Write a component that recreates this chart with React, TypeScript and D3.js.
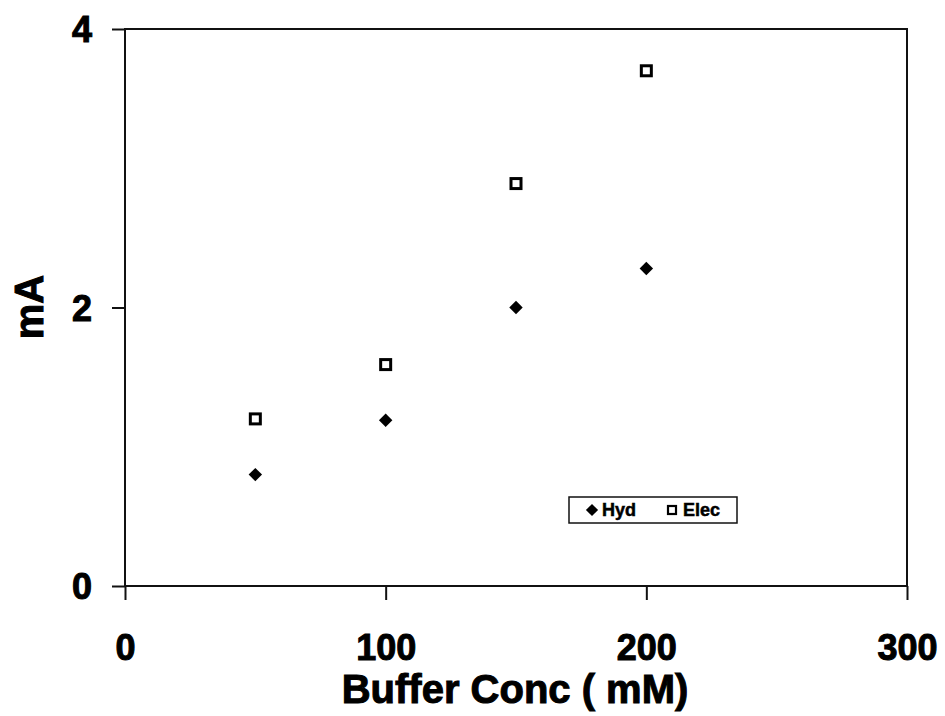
import React, { useEffect, useRef } from "react";
import * as d3 from "d3";

const concs = [50, 100, 150, 200];
const hyd = [0.8, 1.19, 2.0, 2.28];
const elec = [1.2, 1.59, 2.89, 3.7];
const xTicks = [0, 100, 200, 300];
const yTicks = [0, 2, 4];

const width = 945;
const height = 716;
const margin = { top: 29, left: 125, bottom: 130, right: 38 };
const iwidth = width - margin.left - margin.right;
const iheight = height - margin.top - margin.bottom;
const font = "'Liberation Sans', Arial, sans-serif";

export default function App() {
  const ref = useRef<SVGSVGElement>(null);

  useEffect(() => {
    const svg = d3.select(ref.current);
    svg.selectAll("*").remove();

    const g = svg
      .append("g")
      .attr("transform", `translate(${margin.left},${margin.top})`);

    const x = d3.scaleLinear().domain([0, 300]).range([0, iwidth]);
    const y = d3.scaleLinear().domain([0, 4]).range([iheight, 0]);

    // frame
    g.append("rect")
      .attr("width", iwidth)
      .attr("height", iheight)
      .attr("fill", "none")
      .attr("stroke", "#111")
      .attr("stroke-width", 2);

    const xAxis = g
      .append("g")
      .attr("transform", `translate(0,${iheight})`)
      .call(d3.axisBottom(x).tickValues(xTicks).tickSize(14).tickPadding(34).tickFormat(d3.format("d")));
    const yAxis = g
      .append("g")
      .call(d3.axisLeft(y).tickValues(yTicks).tickSize(13).tickPadding(20).tickFormat(d3.format("d")));

    [xAxis, yAxis].forEach((a) => {
      a.select(".domain").remove();
      a.selectAll("line").attr("stroke", "#111").attr("stroke-width", 2);
      a.selectAll("text")
        .attr("fill", "#000")
        .attr("stroke", "#000")
        .attr("stroke-width", 1)
        .style("font-family", font)
        .style("font-weight", "bold")
        .style("font-size", "36px");
    });
    yAxis.selectAll("text").attr("dy", "0.36em");

    const diamond = d3.symbol().type(d3.symbolDiamond2).size(115);

    g.selectAll(".hyd")
      .data(concs)
      .enter()
      .append("path")
      .attr("class", "hyd")
      .attr("d", diamond)
      .attr("transform", (d, i) => `translate(${x(d)},${y(hyd[i])})`)
      .attr("fill", "#000");

    g.selectAll(".elec")
      .data(concs)
      .enter()
      .append("rect")
      .attr("class", "elec")
      .attr("x", (d) => x(d) - 5)
      .attr("y", (d, i) => y(elec[i]) - 5)
      .attr("width", 10)
      .attr("height", 10)
      .attr("fill", "#fff")
      .attr("stroke", "#000")
      .attr("stroke-width", 3);

    // legend
    const lg = svg.append("g").attr("transform", "translate(569,497)");
    lg.append("rect")
      .attr("width", 168)
      .attr("height", 26)
      .attr("fill", "#fff")
      .attr("stroke", "#111")
      .attr("stroke-width", 1.5);
    lg.append("path")
      .attr("d", d3.symbol().type(d3.symbolDiamond2).size(95)())
      .attr("transform", "translate(23,13)")
      .attr("fill", "#000");
    lg.append("rect")
      .attr("x", 99)
      .attr("y", 9)
      .attr("width", 8)
      .attr("height", 8)
      .attr("fill", "#fff")
      .attr("stroke", "#000")
      .attr("stroke-width", 2.2);
    const legendText = [
      { label: "Hyd", x: 33 },
      { label: "Elec", x: 114 },
    ];
    lg.selectAll(".lt")
      .data(legendText)
      .enter()
      .append("text")
      .attr("x", (d) => d.x)
      .attr("y", 19)
      .text((d) => d.label)
      .attr("stroke", "#000")
      .attr("stroke-width", 0.5)
      .style("font-family", font)
      .style("font-weight", "bold")
      .style("font-size", "18px");

    // axis titles
    svg.append("text")
      .attr("x", 515)
      .attr("y", 703)
      .attr("text-anchor", "middle")
      .text("Buffer Conc ( mM)")
      .attr("stroke", "#000")
      .attr("stroke-width", 1)
      .style("font-family", font)
      .style("font-weight", "bold")
      .style("font-size", "40px");

    svg.append("text")
      .attr("transform", "translate(43,307) rotate(-90)")
      .attr("text-anchor", "middle")
      .text("mA")
      .attr("stroke", "#000")
      .attr("stroke-width", 1)
      .style("font-family", font)
      .style("font-weight", "bold")
      .style("font-size", "40px");
  }, []);

  return (
    <svg
      ref={ref}
      width={width}
      height={height}
      style={{ position: "absolute", left: 0, top: 0, background: "#fff" }}
    />
  );
}
